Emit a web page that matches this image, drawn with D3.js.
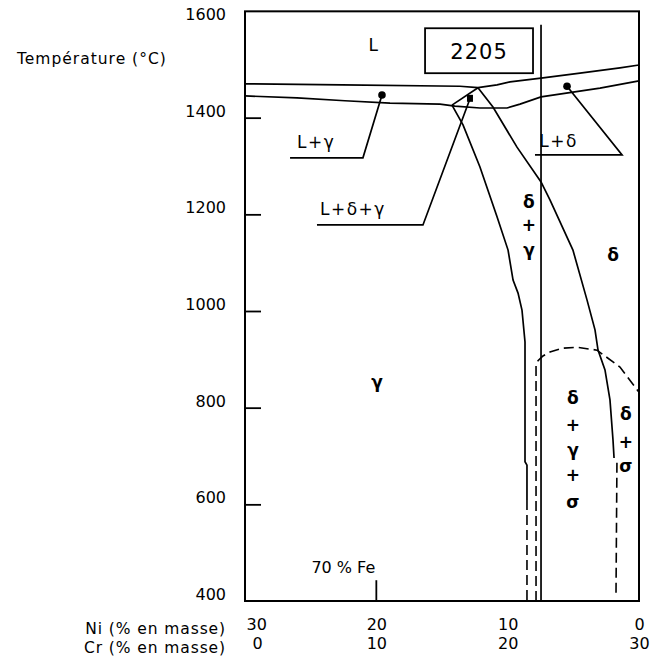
<!DOCTYPE html>
<html>
<head>
  <meta charset="UTF-8">
  <script src="https://d3js.org/d3.v7.min.js"></script>
  <title>Diagramme Fe-Cr-Ni 70 % Fe</title>
  <style type="text/css">
    html, body { margin:0; background:#fff; }
    text { font-family: "DejaVu Sans", sans-serif; fill:#000; }
  </style>
</head>
<body>
<div id="chart"></div>
<script>
// temperature ticks (°C) and composition ticks (% en masse)
var tempTicks = [400, 600, 800, 1000, 1200, 1400, 1600];
var niTicks = [30, 20, 10, 0];
var crTicks = [0, 10, 20, 30];

// phase boundaries, [Cr %, T °C]
var liquidus = [[0,1470],[7.39,1468],[16.37,1465],[17.74,1462],[19.19,1468],[20.18,1474],
                [22.54,1482],[25.51,1492],[28.55,1503],[30,1509]];
var solidus = [[0,1445],[3.96,1441],[7.61,1435],[11.04,1430],[14.85,1428],[15.99,1424],
               [17.89,1420],[19.95,1420],[20.94,1428],[22.54,1443],[27.03,1461],[30,1476]];
var peritectic = [[17.74,1462],[15.76,1426]];
var gammaBound = [[15.76,1426],[16.60,1385],[17.89,1298],[19.19,1195],[20.03,1126],[20.41,1064],
                  [20.79,1037],[21.09,1002],[21.32,936],[21.32,688],[21.47,681],[21.47,609]];
var gammaBoundDash = [[21.47,609],[21.47,400]];
var deltaBound = [[17.74,1462],[18.88,1422],[20.71,1339],[22.54,1267],[23.22,1230],[24.97,1126],
                  [26.04,1023],[26.65,961],[26.88,919],[27.41,878],[27.79,816],[28.02,733],[28.10,696]];
var deltaBoundDash = [[28.32,686],[28.25,417]];
var sigmaDome = [[22.16,400],[22.16,888],[22.31,897],[22.69,907],[23.22,915],[24.14,923],
                 [25.28,925],[26.8,919],[28.55,884],[30,832]];
var alloy2205 = [[22.54,1592],[22.54,400]];

// leader lines and their dots
var leaders = [
  { pts: [[10.43,1447],[8.98,1317],[3.43,1317]], dot: [10.43,1447], shape: "circle" },
  { pts: [[17.13,1439],[13.55,1178],[5.48,1178]], dot: [17.13,1439], shape: "square" },
  { pts: [[24.52,1465],[28.71,1323],[22.08,1323]], dot: [24.52,1465], shape: "circle" }
];

// region labels [text, Cr %, T °C, anchor, greek]
var labels = [
  ["L", 9.82, 1550, "middle", false],
  ["L+γ", 3.96, 1337, "start", false],
  ["L+δ+γ", 5.71, 1199, "start", false],
  ["L+δ", 22.40, 1339, "start", false],
  ["δ", 21.62, 1226, "middle", true], ["+", 21.62, 1178, "middle", true], ["γ", 21.62, 1126, "middle", true],
  ["δ", 28.02, 1116, "middle", true],
  ["γ", 10.05, 853, "middle", true],
  ["δ", 24.97, 820, "middle", true], ["+", 24.97, 764, "middle", true], ["γ", 24.97, 712, "middle", true],
  ["+", 24.97, 661, "middle", true], ["σ", 24.97, 605, "middle", true],
  ["δ", 29.0, 787, "middle", true], ["+", 29.0, 729, "middle", true], ["σ", 29.0, 679, "middle", true]
];

var svgWidth = 651, svgHeight = 661;
var svg = d3.select("#chart").append("svg")
  .attr("width", svgWidth).attr("height", svgHeight);

var x = d3.scaleLinear().domain([0, 30]).range([245, 639]);
var xNi = d3.scaleLinear().domain([30, 0]).range([245, 639]);
var y = d3.scaleLinear().domain([400, 1600]).range([601, 21]);

var line = d3.line().x(function(d) { return x(d[0]); }).y(function(d) { return y(d[1]); });

// frame
svg.append("rect")
  .attr("x", x(0)).attr("y", y(1620))
  .attr("width", x(30) - x(0)).attr("height", y(400) - y(1620))
  .attr("fill", "none").attr("stroke", "#000").attr("stroke-width", 2);

// y axis, ticks inside the frame
var yAxis = svg.append("g")
  .attr("transform", "translate(" + x(0) + ",0)")
  .call(d3.axisLeft(y).tickValues(tempTicks).tickFormat(d3.format("d"))
    .tickSize(-16).tickPadding(19));
yAxis.select(".domain").remove();
yAxis.selectAll("line").attr("stroke-width", 1.8)
  .filter(function(d) { return d == 400 || d == 1600; }).remove();
yAxis.selectAll("text").attr("font-size", "16px").attr("dy", "-0.1em")
  .style("font-family", "DejaVu Sans");

// x axes (two rows)
var niAxis = svg.append("g").attr("transform", "translate(0,619)")
  .call(d3.axisBottom(xNi).tickValues(niTicks).tickSize(0).tickPadding(0));
var crAxis = svg.append("g").attr("transform", "translate(0,638)")
  .call(d3.axisBottom(x).tickValues(crTicks).tickSize(0).tickPadding(0));
[niAxis, crAxis].forEach(function(a) {
  a.select(".domain").remove();
  a.selectAll("text").attr("font-size", "16px").style("font-family", "DejaVu Sans");
});
niAxis.selectAll("text").filter(function(d) { return d == 30; }).attr("dx", "0.7em");
crAxis.selectAll("text").filter(function(d) { return d == 0; }).attr("dx", "0.75em");

svg.append("text").attr("x", 226).attr("y", 634).attr("text-anchor", "end")
  .attr("font-size", "15.5px").attr("letter-spacing", "0.9px").text("Ni (% en masse)");
svg.append("text").attr("x", 226).attr("y", 653).attr("text-anchor", "end")
  .attr("font-size", "15.5px").attr("letter-spacing", "0.9px").text("Cr (% en masse)");
svg.append("text").attr("x", 17).attr("y", 64)
  .attr("font-size", "15.5px").attr("letter-spacing", "1px").text("Température (°C)");

// 70 % Fe marker
svg.append("line").attr("x1", x(10)).attr("x2", x(10)).attr("y1", y(400)).attr("y2", y(443))
  .attr("stroke", "#000").attr("stroke-width", 1.8);
svg.append("text").attr("x", x(10) - 33).attr("y", 573).attr("text-anchor", "middle")
  .attr("font-size", "16px").text("70 % Fe");

// phase boundaries
var solid = [liquidus, solidus, peritectic, gammaBound, deltaBound, alloy2205];
svg.selectAll("path.solid").data(solid).enter().append("path")
  .attr("class", "solid").attr("d", line)
  .attr("fill", "none").attr("stroke", "#000").attr("stroke-width", 1.7);

var dashed = [gammaBoundDash, deltaBoundDash, sigmaDome];
svg.selectAll("path.dashed").data(dashed).enter().append("path")
  .attr("class", "dashed").attr("d", line)
  .attr("fill", "none").attr("stroke", "#000").attr("stroke-width", 1.6)
  .attr("stroke-dasharray", "10,5");

// leaders
svg.selectAll("path.leader").data(leaders).enter().append("path")
  .attr("class", "leader").attr("d", function(d) { return line(d.pts); })
  .attr("fill", "none").attr("stroke", "#000").attr("stroke-width", 1.7);
svg.selectAll("circle.dot").data(leaders.filter(function(d) { return d.shape == "circle"; }))
  .enter().append("circle").attr("class", "dot")
  .attr("cx", function(d) { return x(d.dot[0]); }).attr("cy", function(d) { return y(d.dot[1]); })
  .attr("r", 3.8).attr("fill", "#000");
svg.selectAll("rect.dot").data(leaders.filter(function(d) { return d.shape == "square"; }))
  .enter().append("rect").attr("class", "dot")
  .attr("x", function(d) { return x(d.dot[0]) - 3; }).attr("y", function(d) { return y(d.dot[1]) - 4; })
  .attr("width", 6).attr("height", 7).attr("fill", "#000");

// 2205 box
svg.append("rect")
  .attr("x", x(13.71)).attr("y", y(1585))
  .attr("width", x(21.93) - x(13.71)).attr("height", y(1492) - y(1585))
  .attr("fill", "#fff").attr("stroke", "#000").attr("stroke-width", 1.8);
svg.append("text").attr("x", x(17.82)).attr("y", y(1538)).attr("dy", "0.36em")
  .attr("text-anchor", "middle").attr("font-size", "21px").attr("letter-spacing", "1px")
  .text("2205");

// region labels
svg.selectAll("text.lab").data(labels).enter().append("text")
  .attr("class", "lab")
  .attr("x", function(d) { return x(d[1]); })
  .attr("y", function(d) { return y(d[2]); })
  .attr("dy", function(d) { return d[3] == "start" ? 0 : "0.35em"; })
  .attr("text-anchor", function(d) { return d[3]; })
  .attr("font-size", function(d) { return d[4] ? "17px" : "17px"; })
  .attr("font-weight", function(d) { return d[4] ? "bold" : "normal"; })
  .attr("letter-spacing", function(d) { return d[4] ? 0 : "1.5px"; })
  .text(function(d) { return d[0]; });
</script>
</body>
</html>
